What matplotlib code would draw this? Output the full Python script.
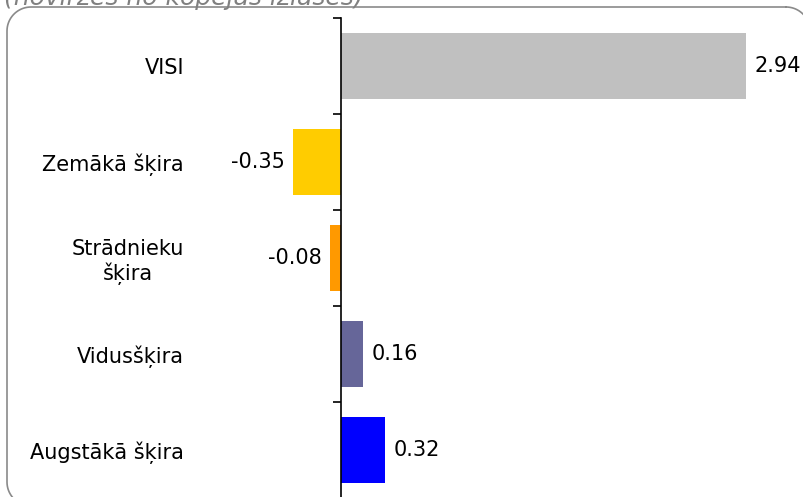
import numpy as np
import matplotlib.pyplot as plt

# dati
kategorijas = ["VISI", "Zemākā šķira", "Strādnieku\nšķira", "Vidusšķira", "Augstākā šķira"]
vertibas = [2.94, -0.35, -0.08, 0.16, 0.32]
krasas = ["#C0C0C0", "#FFCC00", "#FF9900", "#666699", "#0000FF"]
virsraksts = "(novirzes no kopējās izlases)"

W, H = 804, 497
fig = plt.figure(figsize=(W / 100, H / 100), dpi=100)

# fona asis pikseļu koordinātās rāmim
bg = fig.add_axes([0, 0, 1, 1], zorder=-1)
bg.set_xlim(0, W)
bg.set_ylim(H, 0)
bg.axis("off")


def noapalots_taisnsturis(x0, y0, x1, y1, r):
    xs, ys = [], []
    sturi = [(x1 - r, y0 + r, -90, 0), (x1 - r, y1 - r, 0, 90),
             (x0 + r, y1 - r, 90, 180), (x0 + r, y0 + r, 180, 270)]
    for cx, cy, a0, a1 in sturi:
        t = np.radians(np.linspace(a0, a1, 20))
        xs.extend(cx + r * np.cos(t))
        ys.extend(cy + r * np.sin(t))
    xs.append(xs[0])
    ys.append(ys[0])
    return xs, ys


bx, by = noapalots_taisnsturis(7, 7, 810, 506, 24)
bg.plot(bx, by, color="#8a8a8a", linewidth=1.2, clip_on=False)

fig.text(4 / W, 1 - 5 / H, virsraksts, fontsize=18, style="italic", color="#808080",
         ha="left", va="baseline")

# asis: nulle pie x=341, 2.94 pie x=746
left_px, right_px = 200, 790
x0 = 341
scale = (746 - 341) / 2.94
ax = fig.add_axes([left_px / W, -1 / H, (right_px - left_px) / W, 480 / H])
ax.set_xlim((left_px - x0) / scale, (right_px - x0) / scale)

pos = list(range(len(kategorijas)))
bars = ax.barh(pos, vertibas, height=0.68, color=krasas)
ax.set_ylim(len(kategorijas) - 0.5, -0.5)

labels = [f"{v:.2f}" for v in vertibas]
ax.bar_label(bars, labels=labels, padding=6, fontsize=15)

for s in ["top", "right", "bottom"]:
    ax.spines[s].set_visible(False)
ax.spines["left"].set_position(("data", 0))
ax.spines["left"].set_linewidth(1.2)
ax.xaxis.set_visible(False)

ax.set_yticks([p - 0.5 for p in pos] + [len(pos) - 0.5])
ax.set_yticklabels([])
ax.tick_params(axis="y", which="major", length=6, width=1.2, direction="out")
ax.set_yticks(pos, minor=True)
ax.set_yticklabels(kategorijas, minor=True, fontsize=15, multialignment="center")
ax.tick_params(axis="y", which="minor", length=0, pad=113)
ax.patch.set_alpha(0)

fig.savefig("out.png", dpi=100)
